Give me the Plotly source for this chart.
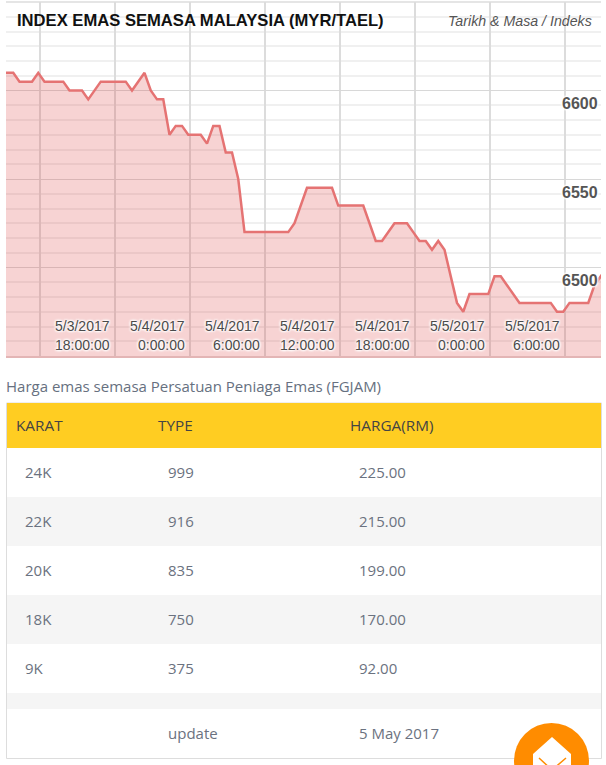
import pandas as pd
import plotly.graph_objects as go

W, H = 606, 765

# index sampled every 30 minutes
gold_index = [
    6610, 6610, 6610, 6605, 6605, 6605, 6610, 6605, 6605, 6605, 6605, 6600, 6600, 6600, 6595, 6600,
    6605, 6605, 6605, 6605, 6605, 6600, 6605, 6610, 6600, 6595, 6595, 6575, 6580, 6580, 6575, 6575,
    6575, 6570, 6580, 6580, 6565, 6565, 6550, 6520, 6520, 6520, 6520, 6520, 6520, 6520, 6520, 6525,
    6535, 6545, 6545, 6545, 6545, 6545, 6535, 6535, 6535, 6535, 6535, 6525, 6515, 6515, 6520, 6525,
    6525, 6525, 6520, 6515, 6515, 6510, 6515, 6510, 6495, 6480, 6475, 6485, 6485, 6485, 6485, 6495,
    6495, 6490, 6485, 6480, 6480, 6480, 6480, 6480, 6480, 6475, 6475, 6480, 6480, 6480, 6480, 6490,
    6495, 6500,
]
times = pd.date_range("2017-05-03 14:54", periods=len(gold_index), freq="30min")

tick_times = ["2017-05-03 18:00", "2017-05-04 00:00", "2017-05-04 06:00", "2017-05-04 12:00",
              "2017-05-04 18:00", "2017-05-05 00:00", "2017-05-05 06:00"]
tick_dates = ["5/3/2017", "5/4/2017", "5/4/2017", "5/4/2017", "5/4/2017", "5/5/2017", "5/5/2017"]
tick_hours = ["18:00:00", "0:00:00", "6:00:00", "12:00:00", "18:00:00", "0:00:00", "6:00:00"]
y_ticks = [6600, 6550, 6500]

headers = ["KARAT", "TYPE", "HARGA(RM)"]
karat = ["24K", "22K", "20K", "18K", "9K", "", ""]
types = ["999", "916", "835", "750", "375", "", "update"]
harga = ["225.00", "215.00", "199.00", "170.00", "92.00", "", "5 May 2017"]


def px(x):
    return x / W


def py(y):
    return 1 - y / H


def label(x, y, text, size=15, color="#6b7280", family="Open Sans", anchor="left"):
    # annotations pad their text by 2px, take that back off
    return dict(xref="paper", yref="paper", x=px(x - 2), y=py(y), text=text, showarrow=False,
                xanchor=anchor, yanchor="middle", align=anchor,
                font=dict(family=family, size=size, color=color))


def rect(x0, y0, x1, y1, fill, line="rgba(0,0,0,0)"):
    return dict(type="rect", xref="paper", yref="paper", x0=px(x0), x1=px(x1), y0=py(y0), y1=py(y1),
                fillcolor=fill, line=dict(color=line, width=1), layer="below")


fig = go.Figure()
fig.add_trace(go.Scatter(x=times, y=gold_index, mode="lines", fill="tozeroy",
                         line=dict(color="#E57373", width=2.5),
                         fillcolor="rgba(222,70,70,0.24)", hoverinfo="skip"))

annotations = []
annotations.append(label(17, 20, "<b>INDEX EMAS SEMASA MALAYSIA (MYR/TAEL)</b>", 16.6, "#111111", "Liberation Sans"))
annotations.append(label(448, 21, "<i>Tarikh &amp; Masa / Indeks</i>", 14.2, "#555555", "Liberation Sans"))

halo = "-1px -1px 2px #fff, 1px -1px 2px #fff, -1px 1px 2px #fff, 1px 1px 2px #fff"
for t, d, h in zip(tick_times, tick_dates, tick_hours):
    for text, y in ((d, 326), (h, 345)):
        annotations.append(dict(xref="x", yref="paper", x=t, y=py(y), text=text, showarrow=False,
                                xanchor="right", yanchor="middle", xshift=72,
                                font=dict(family="Liberation Sans", size=14, color="#4a4a4a", shadow=halo)))
for v in y_ticks:
    annotations.append(dict(xref="paper", yref="y", x=px(600), y=v, text=f"<b>{v}</b>", showarrow=False,
                            xanchor="right", yanchor="middle", yshift=-13,
                            font=dict(family="Liberation Sans", size=16, color="#555555", shadow=halo)))

annotations.append(label(6, 385.5, "Harga emas semasa Persatuan Peniaga Emas (FGJAM)", 15, "#667080"))

# table, drawn by hand because the rows are not all the same height
shapes = [rect(6.5, 403, 601.5, 758.5, "#ffffff", "#dddddd"),
          rect(7, 403, 601, 448, "#FFCD22")]
for text, x in zip(headers, (16, 158, 350)):
    annotations.append(label(x, 424.5, text, 15.3, "#444444"))

row_tops = [448, 497, 546, 595, 644, 693, 709]
row_bottoms = [497, 546, 595, 644, 693, 709, 758]
for i, (top, bottom) in enumerate(zip(row_tops, row_bottoms)):
    if i % 2 == 1:
        shapes.append(rect(7, top, 601, bottom, "#F5F5F5"))
    middle = (top + bottom) / 2 - 1
    for text, x in ((karat[i], 25), (types[i], 168), (harga[i], 359)):
        if text:
            annotations.append(label(x, middle, text))

# scroll-to-top button in the corner
shapes.append(dict(type="circle", xref="paper", yref="paper", x0=px(514), x1=px(589), y0=py(723), y1=py(798),
                   fillcolor="#FF8C00", line=dict(width=0), layer="above"))


def path(points, close=True):
    d = " ".join(("M" if i == 0 else "L") + f"{px(x):.5f},{py(y):.5f}" for i, (x, y) in enumerate(points))
    return d + (" Z" if close else "")


shapes.append(dict(type="path", xref="paper", yref="paper",
                   path=path([(552, 737), (533, 754), (533, 775), (571, 775), (571, 754)]),
                   fillcolor="#ffffff", line=dict(width=0), layer="above"))
shapes.append(dict(type="path", xref="paper", yref="paper",
                   path=path([(539, 758), (552, 770), (566, 758)], close=False),
                   line=dict(color="#FF8C00", width=1.5), layer="above"))
shapes.append(dict(type="line", xref="paper", yref="paper", x0=px(6), x1=px(601), y0=py(2), y1=py(2),
                   line=dict(color="#dddddd", width=1.5), layer="below"))

fig.update_layout(
    width=W, height=H, margin=dict(l=0, r=0, t=0, b=0), autosize=False,
    paper_bgcolor="#ffffff", plot_bgcolor="#ffffff", showlegend=False,
    annotations=annotations, shapes=shapes,
    xaxis=dict(type="date", domain=[px(6), px(601)],
               range=["2017-05-03 15:19:12", "2017-05-05 14:55:12"],
               tick0="2017-05-03 18:00", dtick=21600000, showticklabels=False,
               showgrid=True, gridcolor="#dcdcdc", gridwidth=1.6, zeroline=False,
               showline=True, linecolor="#e3b5b5", linewidth=1.5, ticks=""),
    yaxis=dict(domain=[py(356), py(2)], range=[6450, 6650], tick0=6450, dtick=50,
               showticklabels=False, showgrid=True, gridcolor="#d8d8d8", gridwidth=1.2,
               zeroline=False, showline=False, ticks="",
               minor=dict(tick0=6450, dtick=50 / 6, showgrid=True, gridcolor="#f0f0f0", gridwidth=1.5)),
)

fig.write_html("out.html", config={"displayModeBar": False}, post_script="document.body.style.margin='0';")
